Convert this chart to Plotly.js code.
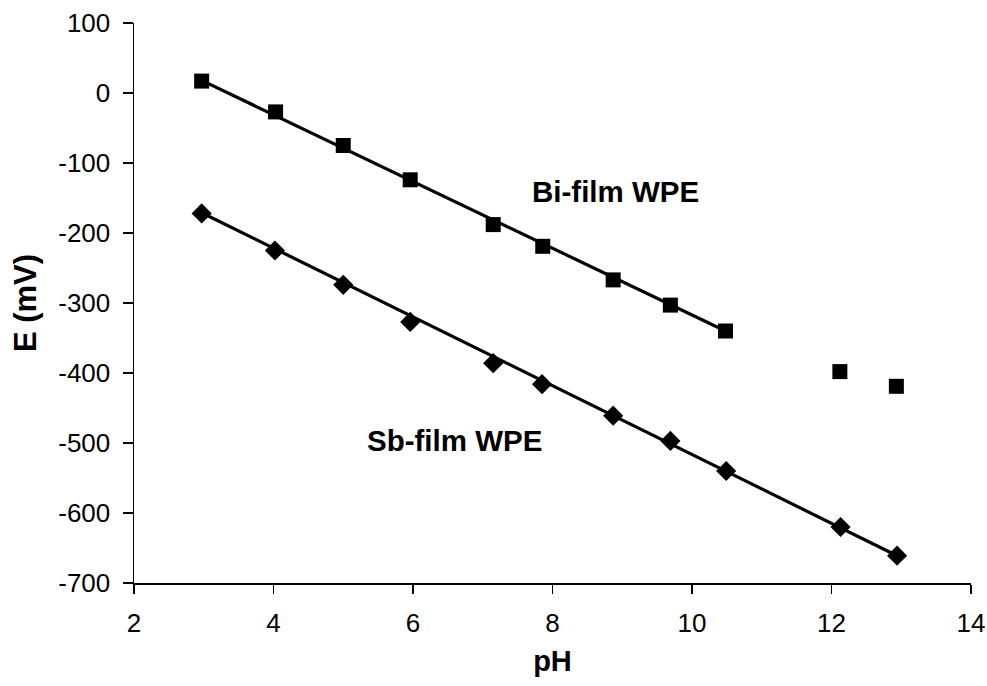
<!DOCTYPE html>
<html>
<head>
<meta charset="utf-8">
<script src="https://cdn.plot.ly/plotly-3.0.1.min.js"></script>
<style>html,body{margin:0;padding:0;background:#fff;}#chart{width:987px;height:686px;}</style>
</head>
<body>
<div id="chart"></div>
<script>
// Bi-film WPE measured points
const biPH = [2.97, 4.03, 5.00, 5.96, 7.15, 7.86, 8.87, 9.69, 10.48, 12.12, 12.93];
const biE  = [17, -27, -75, -124, -188, -219, -267, -303, -340, -398, -419];
// Sb-film WPE measured points
const sbPH = [2.97, 4.02, 5.00, 5.96, 7.15, 7.85, 8.87, 9.69, 10.49, 12.13, 12.94];
const sbE  = [-172, -225, -274, -327, -386, -416, -461, -497, -540, -620, -661];
// linear fit line endpoints
const biFitPH = [2.97, 10.48];
const biFitE  = [18, -340];
const sbFitPH = [2.97, 12.94];
const sbFitE  = [-171, -661];
// tick labels
const xTicks = [2, 4, 6, 8, 10, 12, 14];
const yTicks = [100, 0, -100, -200, -300, -400, -500, -600, -700];

const FONT = 'Liberation Sans, Arial, sans-serif';

const traces = [
  {x: biFitPH, y: biFitE, mode: 'lines', line: {color: '#000', width: 3.2}, hoverinfo: 'skip'},
  {x: sbFitPH, y: sbFitE, mode: 'lines', line: {color: '#000', width: 3.2}, hoverinfo: 'skip'},
  {x: biPH, y: biE, mode: 'markers', marker: {symbol: 'square', size: 15, color: '#000'}},
  {x: sbPH, y: sbE, mode: 'markers', marker: {symbol: 'diamond', size: 15.5, color: '#000'}}
];

const layout = {
  width: 987, height: 686,
  margin: {l: 134, r: 16, t: 23, b: 103},
  paper_bgcolor: '#fff', plot_bgcolor: '#fff',
  showlegend: false,
  font: {family: FONT, size: 26, color: '#000'},
  xaxis: {
    range: [2, 14], tickvals: xTicks, ticktext: xTicks.map(String),
    showgrid: false, zeroline: false,
    showline: true, linecolor: '#000', linewidth: 1.5,
    ticks: 'outside', ticklen: 9, tickwidth: 1.5, tickcolor: '#000',
    ticklabelstandoff: 7,
    tickfont: {family: FONT, size: 26, color: '#000'},
    title: {text: '<b>pH</b>', font: {family: FONT, size: 29, color: '#000'}, standoff: 14}
  },
  yaxis: {
    range: [-700, 100], tickvals: yTicks, ticktext: yTicks.map(String),
    showgrid: false, zeroline: false,
    showline: true, linecolor: '#000', linewidth: 1.5,
    ticks: 'outside', ticklen: 10, tickwidth: 1.5, tickcolor: '#000',
    ticklabelstandoff: 7,
    tickfont: {family: FONT, size: 26, color: '#000'},
    title: {text: '<b>E (mV)</b>', font: {family: FONT, size: 31, color: '#000'}, standoff: 12}
  },
  annotations: [
    {x: 8.90, y: -140, xref: 'x', yref: 'y', text: '<b>Bi-film WPE</b>', showarrow: false,
     font: {family: FONT, size: 29.5, color: '#000'}},
    {x: 6.60, y: -497, xref: 'x', yref: 'y', text: '<b>Sb-film WPE</b>', showarrow: false,
     font: {family: FONT, size: 29.5, color: '#000'}}
  ]
};

Plotly.newPlot('chart', traces, layout, {displayModeBar: false, staticPlot: true});
</script>
</body>
</html>
